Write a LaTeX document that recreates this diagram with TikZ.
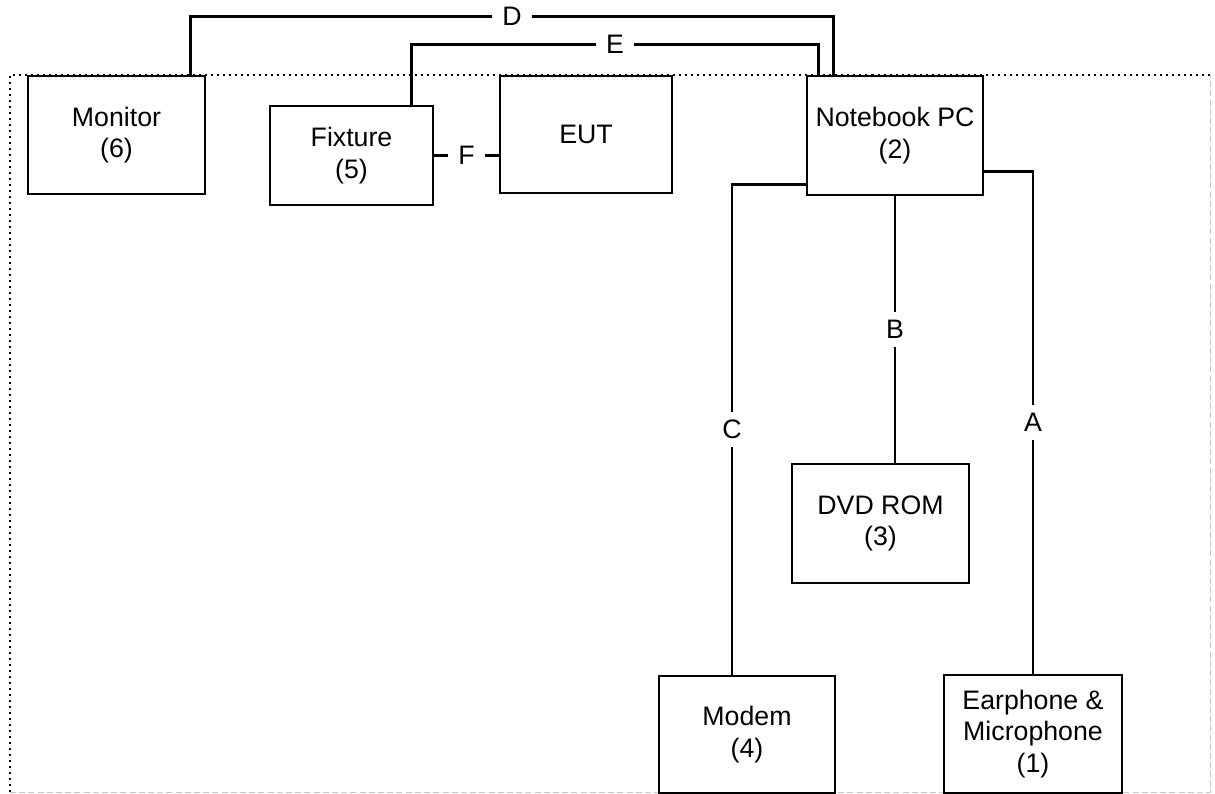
\documentclass[tikz,border=0pt]{standalone}
\usepackage{fontspec}
\setmainfont{Liberation Sans}
\usetikzlibrary{calc}
\tikzset{
  unit/.style={rectangle, draw=black, line width=2pt, fill=white, align=center, text centered, font=\fontsize{19}{22.5}\selectfont},
  cable/.style={line width=1.8pt},
  tag/.style={fill=white, inner xsep=0.25cm, inner ysep=0.2cm, font=\fontsize{19}{22.5}\selectfont},
  dotframe/.style={line width=1.8pt, dash pattern=on 0.05cm off 0.1cm},
  faintedge/.style={gray!45, line width=0.6pt, dash pattern=on 0.15cm off 0.08cm}
}

\begin{document}
\begin{tikzpicture}[x=0.025cm, y=-0.025cm]
    \useasboundingbox (0,0) rectangle (1215,794);

    % 1. Borde de la zona de prueba
    \draw[dotframe] (10,792) -- (10,75) -- (1210,75);
    \draw[faintedge] (10,792) -- (1210,792) -- (1210,75);

    % 2. Equipos
    \node[unit, minimum width=4.425cm, minimum height=2.95cm] (mon) at (116.5,135) {Monitor\\(6)};
    \node[unit, minimum width=4.075cm, minimum height=2.475cm] (fix) at (351.5,155.5) {Fixture\\(5)};
    \node[unit, minimum width=4.3cm, minimum height=2.925cm] (eut) at (586,134.5) {EUT};
    \node[unit, minimum width=4.4cm, minimum height=2.975cm] (nb) at (895,135.5) {Notebook PC\\(2)};
    \node[unit, minimum width=4.425cm, minimum height=2.975cm] (dvd) at (880.5,523.5) {DVD ROM\\(3)};
    \node[unit, minimum width=4.4cm, minimum height=2.925cm] (modem) at (747,734.5) {Modem\\(4)};
    \node[unit, minimum width=4.45cm, minimum height=2.95cm] (ear) at (1033,734) {Earphone \&\\Microphone\\(1)};

    % 3. Cables
    \draw[cable] ($(mon.north east)+(-16,0)$) -- ++(0,-58) -| node[tag, pos=0.25] {D} ($(nb.north west)+(28,0)$);
    \draw[cable] ($(fix.north east)+(-23,0)$) -- ++(0,-60) -| node[tag, pos=0.25] {E} ($(nb.north west)+(13,0)$);
    \draw[cable] (fix.east) -- node[tag] {F} (fix.east -| eut.west);
    \draw[cable] ($(nb.south west)+(0,-12)$) -| node[tag, pos=0.75] {C} ($(modem.north)+(-15,0)$);
    \draw[cable] (nb.south) -- node[tag] {B} (nb.south |- dvd.north);
    \draw[cable] ($(nb.south east)+(0,-25)$) -| node[tag, pos=0.75] {A} (ear.north);

\end{tikzpicture}
\end{document}
